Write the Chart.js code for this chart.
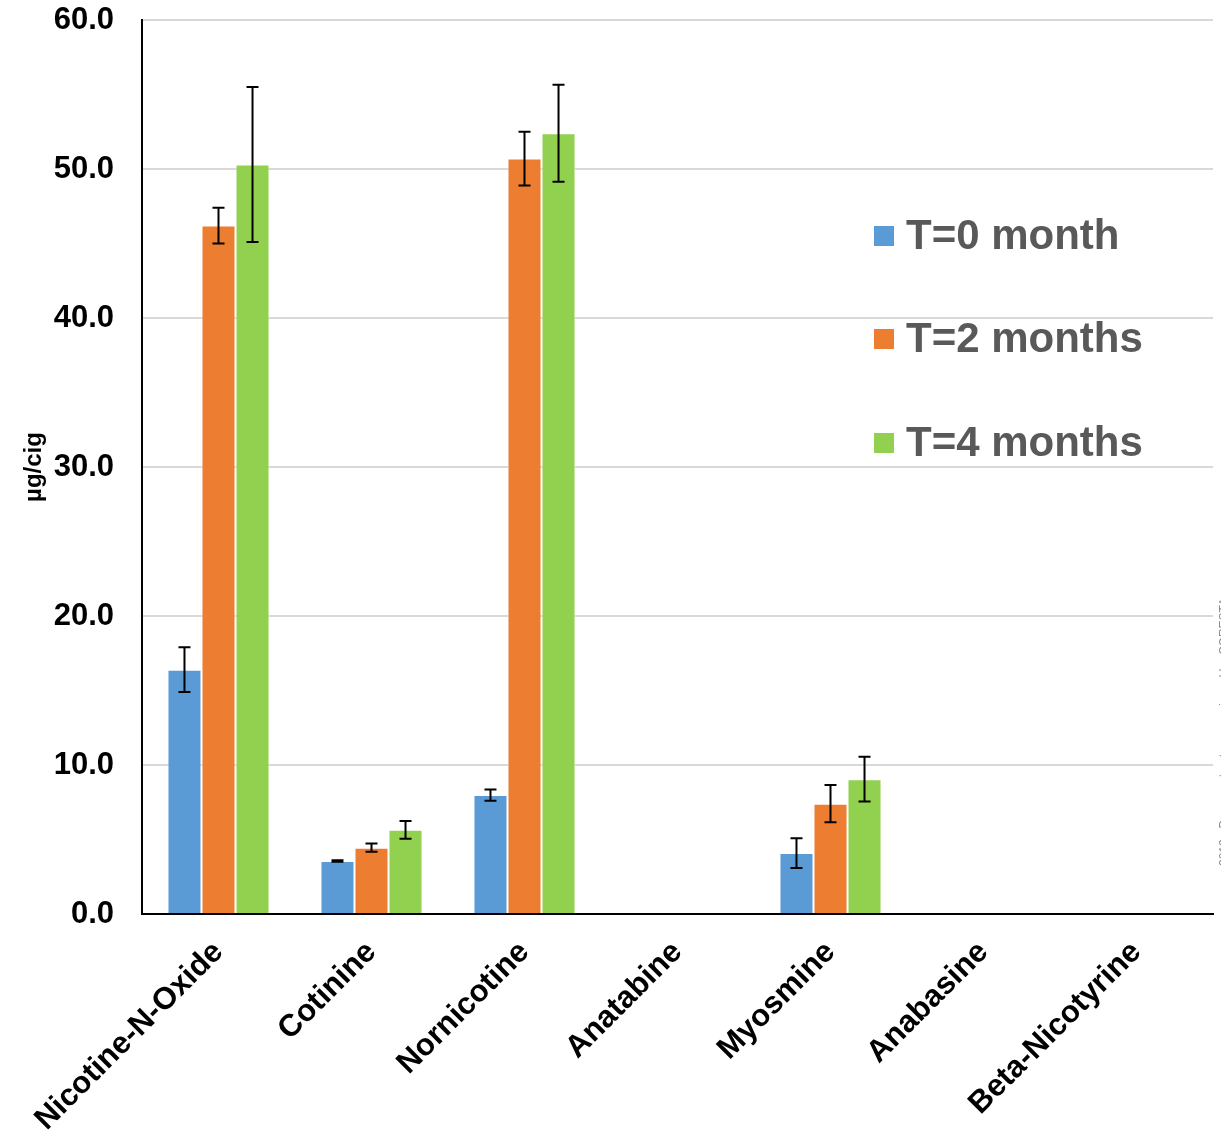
<!DOCTYPE html>
<html>
<head>
<meta charset="utf-8">
<title>Nicotine-related alkaloids over storage time</title>
<script src="https://cdn.jsdelivr.net/npm/chart.js@4/dist/chart.umd.min.js"></script>
<style>
  html, body { margin: 0; padding: 0; background: #fff; }
  #wrap { position: relative; width: 1221px; height: 1139px; }
</style>
</head>
<body>
<div id="wrap"><canvas id="chart"></canvas></div>
<script>
// Alkaloid yields (µg/cig) with standard deviations, per storage time
const categories = ['Nicotine-N-Oxide', 'Cotinine', 'Nornicotine', 'Anatabine', 'Myosmine', 'Anabasine', 'Beta-Nicotyrine'];
const seriesLabels = ['T=0 month', 'T=2 months', 'T=4 months'];
const seriesColors = ['#5B9BD5', '#ED7D31', '#92D050'];

const month0 = [16.4, 3.56, 7.98, 0, 4.09, 0, 0];
const month0Err = [1.5, 0.05, 0.38, 0, 1.0, 0, 0];
const month2 = [46.2, 4.45, 50.7, 0, 7.4, 0, 0];
const month2Err = [1.2, 0.28, 1.8, 0, 1.25, 0, 0];
const month4 = [50.3, 5.65, 52.4, 0, 9.05, 0, 0];
const month4Err = [5.2, 0.6, 3.25, 0, 1.5, 0, 0];

const yMin = 0, yMax = 60, yStep = 10;
const yTitle = 'µg/cig';
const footNote = '2018 - Document not peer-reviewed by CORESTA';

const values = [month0, month2, month4];
const errors = [month0Err, month2Err, month4Err];

const FONT = '"Liberation Sans", Arial, Helvetica, sans-serif';

// Vertical error bars with caps, drawn on top of the bars
const errorBars = {
  id: 'errorBars',
  afterDatasetsDraw(chart) {
    const ctx = chart.ctx;
    const y = chart.scales.y;
    ctx.save();
    ctx.strokeStyle = '#000';
    ctx.lineWidth = 2;
    chart.data.datasets.forEach((ds, i) => {
      const meta = chart.getDatasetMeta(i);
      meta.data.forEach((bar, j) => {
        const v = ds.data[j];
        const e = errors[i][j];
        const top = y.getPixelForValue(v + e);
        const bot = y.getPixelForValue(v - e);
        const x = bar.x;
        ctx.beginPath();
        ctx.moveTo(x, top); ctx.lineTo(x, bot);
        ctx.moveTo(x - 6, top); ctx.lineTo(x + 6, top);
        ctx.moveTo(x - 6, bot); ctx.lineTo(x + 6, bot);
        ctx.stroke();
      });
    });
    ctx.restore();
  }
};

// Legend placed inside the plot, stacked on the right
const sideLegend = {
  id: 'sideLegend',
  afterDraw(chart) {
    const ctx = chart.ctx;
    ctx.save();
    ctx.font = 'bold 42px ' + FONT;
    ctx.textBaseline = 'middle';
    ctx.textAlign = 'left';
    const rows = [236, 339, 443];
    chart.data.datasets.forEach((ds, i) => {
      const cy = rows[i];
      ctx.fillStyle = ds.backgroundColor;
      ctx.fillRect(874, cy - 10, 20, 20);
      ctx.fillStyle = '#595959';
      ctx.fillText(ds.label, 906, cy + 1);
    });
    ctx.restore();
  }
};

// Vertical note along the right edge
const edgeNote = {
  id: 'edgeNote',
  afterDraw(chart) {
    const ctx = chart.ctx;
    ctx.save();
    ctx.translate(1228, 598);
    ctx.rotate(-Math.PI / 2);
    ctx.font = '12px ' + FONT;
    ctx.fillStyle = '#8c8c8c';
    ctx.textAlign = 'right';
    ctx.textBaseline = 'alphabetic';
    ctx.fillText(footNote, 0, 0);
    ctx.restore();
  }
};

new Chart(document.getElementById('chart'), {
  type: 'bar',
  data: {
    labels: categories,
    datasets: values.map((d, i) => ({
      label: seriesLabels[i],
      data: d,
      backgroundColor: seriesColors[i],
      borderColor: 'rgba(255,255,255,0.55)',
      borderWidth: 1,
      categoryPercentage: 0.667,
      barPercentage: 1.0
    }))
  },
  options: {
    responsive: true,
    maintainAspectRatio: false,
    animation: false,
    layout: { padding: { top: 20, right: 8, left: 0, bottom: 0 } },
    plugins: {
      legend: { display: false },
      tooltip: { enabled: false }
    },
    scales: {
      x: {
        grid: { display: false },
        border: { color: '#000', width: 2 },
        ticks: {
          color: '#000',
          font: { family: FONT, size: 31, weight: 'bold' },
          minRotation: 45,
          maxRotation: 45,
          autoSkip: false,
          padding: 12
        },
        afterFit(scale) {
          scale.height = 225;
          scale.paddingLeft = 0;
          scale.paddingRight = 0;
        }
      },
      y: {
        min: yMin,
        max: yMax,
        grid: { color: '#d9d9d9', lineWidth: 2, drawTicks: false },
        border: { color: '#000', width: 2 },
        ticks: {
          stepSize: yStep,
          color: '#000',
          font: { family: FONT, size: 31, weight: 'bold' },
          padding: 28,
          callback: v => Number(v).toFixed(1)
        },
        title: {
          display: true,
          text: yTitle,
          color: '#000',
          font: { family: FONT, size: 24, weight: 'bold' },
          padding: { top: 20, bottom: 0 }
        },
        afterFit(scale) {
          scale.width = 142;
          scale.paddingTop = 0;
          scale.paddingBottom = 0;
        }
      }
    }
  },
  plugins: [errorBars, sideLegend, edgeNote]
});
</script>
</body>
</html>
